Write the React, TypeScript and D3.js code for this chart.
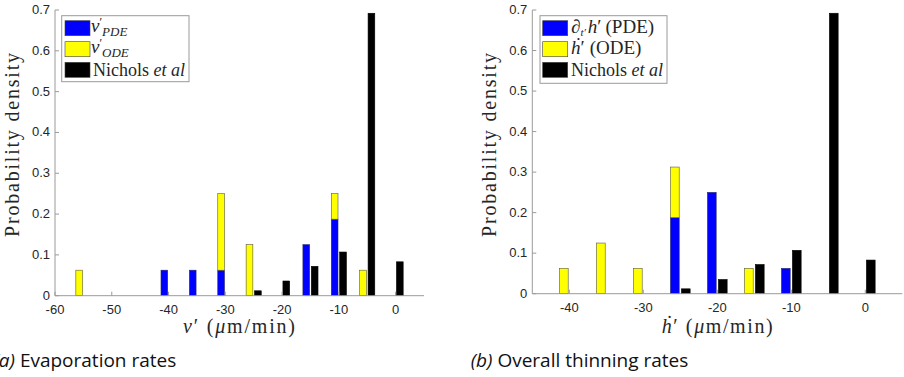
import React from "react";
import * as d3 from "d3";

// ---------- data ----------
const binsA = [-55, -50, -45, -40, -35, -30, -25, -20, -15, -10, -5, 0];
const pdeA = [0, 0, 0, 0.0625, 0.0625, 0.0625, 0, 0, 0.125, 0.1875, 0, 0];
const odeA = [0.0625, 0, 0, 0, 0, 0.1875, 0.125, 0, 0, 0.0625, 0.0625, 0];
const nicholsA = [0, 0, 0, 0, 0, 0, 0.012, 0.036, 0.072, 0.107, 0.692, 0.083];

const binsB = [-40, -35, -30, -25, -20, -15, -10, -5, 0];
const pdeB = [0, 0, 0, 0.1875, 0.25, 0, 0.0625, 0, 0];
const odeB = [0.0625, 0.125, 0.0625, 0.125, 0, 0.0625, 0, 0, 0];
const nicholsB = [0, 0, 0, 0.012, 0.035, 0.072, 0.107, 0.692, 0.083];

const xTicksA = [-60, -50, -40, -30, -20, -10, 0];
const xTicksB = [-40, -30, -20, -10, 0];
const yTicks = [0, 0.1, 0.2, 0.3, 0.4, 0.5, 0.6, 0.7];

const BLUE = "#0000ff";
const YELLOW = "#ffff00";
const BLACK = "#000000";
const AXIS = "#9a9a9a";
const TXT = "#262626";
const SERIF = "'Liberation Serif', 'DejaVu Serif', serif";
const SANS = "'Liberation Sans', Arial, sans-serif";
const CAP = "'Open Sans', 'Noto Sans', sans-serif";

type Panel = {
  bins: number[];
  pde: number[];
  ode: number[];
  nic: number[];
  xDomain: [number, number];
  xRange: [number, number];
  yRange: [number, number];
  xTicks: number[];
};

function Bars({ p }: { p: Panel }) {
  const x = d3.scaleLinear().domain(p.xDomain).range(p.xRange);
  const y = d3.scaleLinear().domain([0, 0.7]).range(p.yRange);
  const off = 0.74;
  const bw = 1.18;
  const rects: React.ReactNode[] = [];
  p.bins.forEach((b, i) => {
    const lx = x(b - off - bw / 2);
    const w = x(b - off + bw / 2) - lx;
    if (p.pde[i] > 0) {
      rects.push(
        <rect key={"p" + i} x={lx} y={y(p.pde[i])} width={w} height={y(0) - y(p.pde[i])}
          fill={BLUE} stroke="#2a2a6a" strokeWidth={0.6} />
      );
    }
    if (p.ode[i] > 0) {
      const top = p.pde[i] + p.ode[i];
      rects.push(
        <rect key={"o" + i} x={lx} y={y(top)} width={w} height={y(p.pde[i]) - y(top)}
          fill={YELLOW} stroke="#5a5a3a" strokeWidth={0.6} />
      );
    }
    if (p.nic[i] > 0) {
      const rx = x(b + off - bw / 2);
      const rw = x(b + off + bw / 2) - rx;
      rects.push(
        <rect key={"n" + i} x={rx} y={y(p.nic[i])} width={rw} height={y(0) - y(p.nic[i])}
          fill={BLACK} stroke="#000" strokeWidth={0.6} />
      );
    }
  });
  return <g>{rects}</g>;
}

function Axes({ p }: { p: Panel }) {
  const x = d3.scaleLinear().domain(p.xDomain).range(p.xRange);
  const y = d3.scaleLinear().domain([0, 0.7]).range(p.yRange);
  const x0 = p.xRange[0];
  const y0 = y(0);
  return (
    <g>
      <line x1={x0} x2={p.xRange[1]} y1={y0} y2={y0} stroke={AXIS} strokeWidth={1} />
      <line x1={x0} x2={x0} y1={y0} y2={y(0.7)} stroke={AXIS} strokeWidth={1} />
      {p.xTicks.map((t) => (
        <g key={"x" + t}>
          <line x1={x(t)} x2={x(t)} y1={y0} y2={y0 - 4} stroke={AXIS} />
          <text x={x(t)} y={y0 + 18} textAnchor="middle" fontFamily={SANS} fontSize={13} fill={TXT}>
            {String(t)}
          </text>
        </g>
      ))}
      {yTicks.map((t) => (
        <g key={"y" + t}>
          <line x1={x0} x2={x0 + 4} y1={y(t)} y2={y(t)} stroke={AXIS} />
          <text x={x0 - 5} y={y(t) + 4} textAnchor="end" fontFamily={SANS} fontSize={13} fill={TXT}>
            {t === 0 ? "0" : d3.format(".1f")(t)}
          </text>
        </g>
      ))}
    </g>
  );
}

function Swatch({ x, y, fill }: { x: number; y: number; fill: string }) {
  return <rect x={x} y={y} width={25} height={15} fill={fill} stroke="#444" strokeWidth={0.6} />;
}

export default function App() {
  const pA: Panel = {
    bins: binsA, pde: pdeA, ode: odeA, nic: nicholsA,
    xDomain: [-60, 5], xRange: [55, 424], yRange: [295.7, 10], xTicks: xTicksA,
  };
  const pB: Panel = {
    bins: binsB, pde: pdeB, ode: odeB, nic: nicholsB,
    xDomain: [-45, 5], xRange: [532.3, 902.3], yRange: [293.7, 10], xTicks: xTicksB,
  };
  return (
    <svg width={904} height={377} style={{ position: "absolute", left: 0, top: 0, background: "#fff" }}>
      {/* panel a */}
      <Bars p={pA} />
      <Axes p={pA} />
      <text transform="translate(19,145) rotate(-90)" textAnchor="middle" fontFamily={SERIF} fontSize={20}
        textLength={184} lengthAdjust="spacing" fill={TXT}>Probability density</text>
      <text x={183} y={333} fontFamily={SERIF} fontSize={20} fill={TXT} textLength={112} lengthAdjust="spacing">
        <tspan fontStyle="italic">v</tspan>
        <tspan>′  (</tspan>
        <tspan fontStyle="italic">μ</tspan>
        <tspan>m/min)</tspan>
      </text>
      <rect x={61.7} y={15.7} width={127.3} height={66} fill="#fff" stroke="#9a9a9a" strokeWidth={1} />
      <Swatch x={65} y={20.7} fill={BLUE} />
      <Swatch x={65} y={41.7} fill={YELLOW} />
      <Swatch x={65} y={62.3} fill={BLACK} />
      <text x={91} y={32} fontFamily={SERIF} fontSize={19} fill={TXT}>
        <tspan fontStyle="italic">v</tspan>
        <tspan dy={-6} fontSize={12}>′</tspan>
        <tspan dy={10} fontSize={13} fontStyle="italic">PDE</tspan>
      </text>
      <text x={91} y={53} fontFamily={SERIF} fontSize={19} fill={TXT}>
        <tspan fontStyle="italic">v</tspan>
        <tspan dy={-6} fontSize={12}>′</tspan>
        <tspan dy={10} fontSize={13} fontStyle="italic">ODE</tspan>
      </text>
      <text x={93} y={76} fontFamily={SERIF} fontSize={18} fill={TXT}>
        Nichols <tspan fontStyle="italic">et al</tspan>
      </text>
      <text x={-6.6} y={367} fontFamily={CAP} fontSize={19} fill="#111">
        <tspan fontStyle="italic">(a)</tspan> Evaporation rates
      </text>

      {/* panel b */}
      <Bars p={pB} />
      <Axes p={pB} />
      <text transform="translate(496,145) rotate(-90)" textAnchor="middle" fontFamily={SERIF} fontSize={20}
        textLength={184} lengthAdjust="spacing" fill={TXT}>Probability density</text>
      <text x={661.7} y={333} fontFamily={SERIF} fontSize={20} fill={TXT} textLength={111} lengthAdjust="spacing">
        <tspan fontStyle="italic">ḣ</tspan>
        <tspan>′  (</tspan>
        <tspan fontStyle="italic">μ</tspan>
        <tspan>m/min)</tspan>
      </text>
      <rect x={540} y={15.7} width={127} height={67.6} fill="#fff" stroke="#9a9a9a" strokeWidth={1} />
      <Swatch x={542.7} y={20.7} fill={BLUE} />
      <Swatch x={542.7} y={41.7} fill={YELLOW} />
      <Swatch x={542.7} y={62.3} fill={BLACK} />
      <text x={571} y={33} fontFamily={SERIF} fontSize={19} fill={TXT}>
        <tspan fontStyle="italic">∂</tspan>
        <tspan dy={3} fontSize={11} fontStyle="italic">t′</tspan>
        <tspan dx={2} dy={-3} fontStyle="italic">h</tspan>
        <tspan>′</tspan>
        <tspan dx={4}>(PDE)</tspan>
      </text>
      <text x={571} y={54} fontFamily={SERIF} fontSize={19} fill={TXT}>
        <tspan fontStyle="italic">ḣ</tspan>
        <tspan>′</tspan>
        <tspan dx={5}>(ODE)</tspan>
      </text>
      <text x={571} y={76} fontFamily={SERIF} fontSize={18} fill={TXT}>
        Nichols <tspan fontStyle="italic">et al</tspan>
      </text>
      <text x={470.7} y={367} fontFamily={CAP} fontSize={19} fill="#111">
        <tspan fontStyle="italic">(b)</tspan> Overall thinning rates
      </text>
    </svg>
  );
}
